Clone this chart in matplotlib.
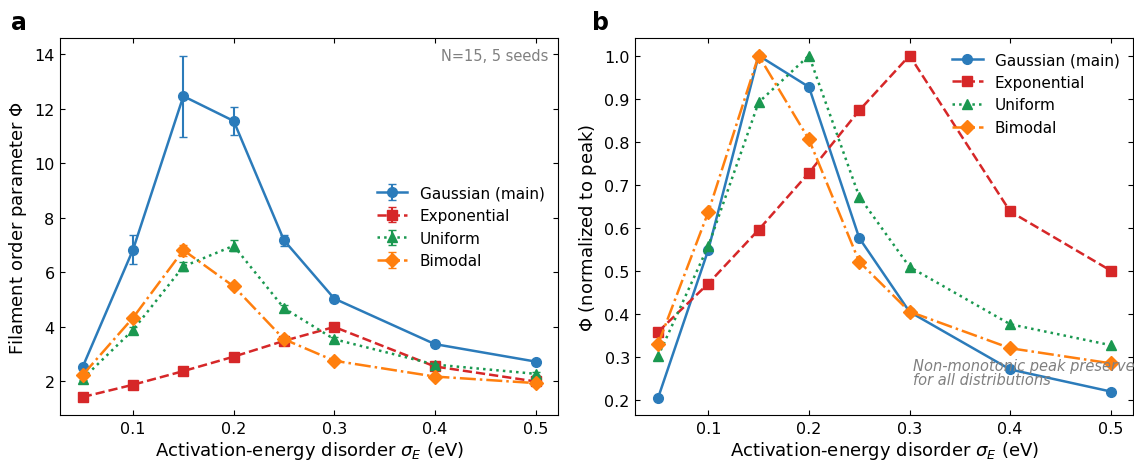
import matplotlib.pyplot as plt
import numpy as np

plt.switch_backend('Agg')

# disorder values (eV)
sigma = [0.05, 0.1, 0.15, 0.2, 0.25, 0.3, 0.4, 0.5]

# filament order parameter, mean and std over seeds
gauss = [2.54, 6.84, 12.47, 11.56, 7.18, 5.04, 3.37, 2.73]
gauss_err = [0.06, 0.53, 1.49, 0.51, 0.20, 0.12, 0.06, 0.05]
expo = [1.43, 1.88, 2.38, 2.91, 3.49, 4.00, 2.55, 2.00]
expo_err = [0.04, 0.05, 0.06, 0.07, 0.08, 0.10, 0.07, 0.05]
unif = [2.10, 3.89, 6.22, 6.98, 4.69, 3.55, 2.62, 2.28]
unif_err = [0.05, 0.10, 0.16, 0.20, 0.10, 0.08, 0.06, 0.05]
bimod = [2.24, 4.34, 6.82, 5.49, 3.55, 2.76, 2.18, 1.94]
bimod_err = [0.05, 0.10, 0.20, 0.10, 0.08, 0.06, 0.05, 0.05]

names = ['Gaussian (main)', 'Exponential', 'Uniform', 'Bimodal']
colors = ['#2b7bba', '#d62728', '#1a9850', '#ff7f0e']
styles = ['-', '--', ':', '-.']
markers = ['o', 's', '^', 'D']
series = [gauss, expo, unif, bimod]
errors = [gauss_err, expo_err, unif_err, bimod_err]

fig, (ax1, ax2) = plt.subplots(1, 2, figsize=(11.34, 4.64), dpi=100)
fig.subplots_adjust(left=0.053, right=0.9995, bottom=0.103, top=0.915, wspace=0.155)

for y, e, name, c, ls, m in zip(series, errors, names, colors, styles, markers):
    ax1.errorbar(sigma, y, yerr=e, label=name, color=c, linestyle=ls, marker=m,
                 markersize=7, linewidth=1.8, capsize=3, elinewidth=1.5)
    yn = np.array(y) / max(y)
    ax2.plot(sigma, yn, label=name, color=c, linestyle=ls, marker=m,
             markersize=7, linewidth=1.8)

for ax in (ax1, ax2):
    ax.tick_params(direction='in', top=True, right=True, labelsize=11.5, pad=4)
    ax.set_xlabel(r'Activation-energy disorder $\sigma_E$ (eV)', fontsize=13, labelpad=2)
    ax.set_xticks([0.1, 0.2, 0.3, 0.4, 0.5])

ax1.set_ylabel(r'Filament order parameter $\Phi$', fontsize=13)
ax2.set_ylabel(r'$\Phi$ (normalized to peak)', fontsize=13)

ax1.legend(loc='center right', frameon=False, fontsize=11)
ax2.legend(loc='upper right', frameon=False, fontsize=11)

ax1.text(0.98, 0.975, 'N=15, 5 seeds', transform=ax1.transAxes, ha='right', va='top',
         fontsize=10.5, color='gray')
ax2.text(0.558, 0.075, 'Non-monotonic peak preserved\nfor all distributions',
         transform=ax2.transAxes, ha='left', va='bottom', fontsize=10.5,
         color='gray', style='italic', linespacing=0.95)

fig.text(0.01, 0.935, 'a', fontsize=17, fontweight='bold')
fig.text(0.522, 0.935, 'b', fontsize=17, fontweight='bold')

fig.savefig('out.png')
